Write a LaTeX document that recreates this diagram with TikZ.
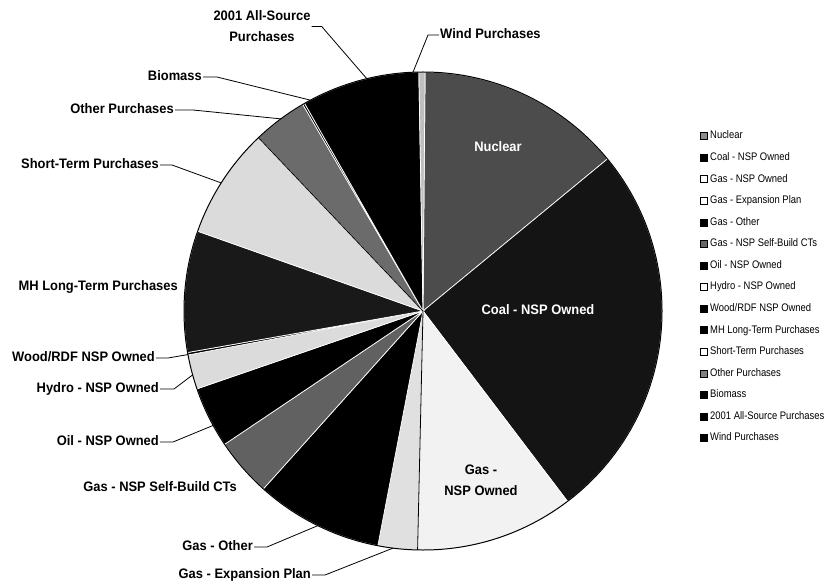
\documentclass[tikz,border=0pt]{standalone}
\usepackage{fontspec}
\newfontfamily\labfont{Liberation Sans}[FakeStretch=0.94]
\newfontfamily\legfont{Liberation Sans}[FakeStretch=0.86]
\usetikzlibrary{calc}
\newcommand\pieR{239}
\newcommand\pieslice[3]{\filldraw[fill=#3, sepline] (C) -- ($(C)+(#1:\pieR)$) arc[start angle=#1, end angle=#2, radius=\pieR] -- cycle;}
\begin{document}
\begin{tikzpicture}[x=1bp,y=1bp,
  lab/.style={font=\labfont\bfseries\fontsize{13.8}{21}\selectfont, inner sep=1bp, align=center},
  labone/.style={lab, text height=10bp, text depth=3bp},
  leg/.style={font=\legfont\fontsize{11}{12}\selectfont, anchor=west, inner sep=0pt, text height=8bp, text depth=2bp},
  legbox/.style={draw=black, line width=0.5bp, minimum size=7bp, inner sep=0pt},
  leader/.style={draw=black, line width=0.8bp},
  sepline/.style={draw=white, line width=0.7bp}]
\useasboundingbox (0,0) rectangle (828,-585);
\coordinate (C) at (423,-311);
% slices
\pieslice{39.5}{89.5}{black!70}
\pieslice{-52.8}{39.5}{black!92}
\pieslice{-91.3}{-52.8}{black!5}
\pieslice{-100.9}{-91.3}{black!12}
\pieslice{-131.9}{-100.9}{black}
\pieslice{-146.1}{-131.9}{black!62}
\pieslice{-161}{-146.1}{black}
\pieslice{-169.4}{-161}{black!14}
\pieslice{-170}{-169.4}{black}
\pieslice{160.5}{190}{black!90}
\pieslice{133.5}{160.5}{black!14}
\pieslice{120.2}{133.5}{black!58}
\pieslice{119.7}{120.2}{black}
\pieslice{91}{119.7}{black}
\pieslice{89.5}{91}{black!25}
\draw[line width=0.8bp] (C) -- ($(C)+(-91.3:\pieR)$);
\draw[line width=0.8bp] (C) -- ($(C)+(133.5:\pieR)$);
\draw[line width=1bp] (C) circle[radius=\pieR];
% inside labels
\node[labone, text=white] (nuc) at (498,-148) {Nuclear};
\node[labone, text=white] (coal) at (538,-311) {Coal - NSP Owned};
\node[lab] (gasown) at (481,-480) {Gas -\\NSP Owned};
% leader targets
\coordinate (t2001) at ($(C)+(103.6:\pieR)$);
\coordinate (twind) at ($(C)+(92.4:\pieR)$);
\coordinate (tbio) at ($(C)+(118.1:\pieR)$);
\coordinate (tother) at ($(C)+(126.5:\pieR)$);
\coordinate (tshort) at ($(C)+(147.6:\pieR)$);
\coordinate (twood) at ($(C)+(190.5:\pieR)$);
\coordinate (thydro) at ($(C)+(195.5:\pieR)$);
\coordinate (toil) at ($(C)+(208.6:\pieR)$);
\coordinate (tgo) at ($(C)+(243.9:\pieR)$);
\coordinate (texp) at ($(C)+(262.8:\pieR)$);
% outside labels
\node[lab] (l2001) at (262,-26.5) {2001 All-Source\\Purchases};
\node[labone, anchor=west] (lwind) at (439,-35) {Wind Purchases};
\node[labone, anchor=east] (lbio) at (203,-77) {Biomass};
\node[labone, anchor=east] (lother) at (175,-110) {Other Purchases};
\node[labone, anchor=east] (lshort) at (160,-165) {Short-Term Purchases};
\node[labone, anchor=east] (lmh) at (179,-287) {MH Long-Term Purchases};
\node[labone, anchor=east] (lwood) at (156,-358) {Wood/RDF NSP Owned};
\node[labone, anchor=east] (lhydro) at (160,-389) {Hydro - NSP Owned};
\node[labone, anchor=east] (loil) at (160,-442) {Oil - NSP Owned};
\node[labone, anchor=east] (lself) at (238,-488) {Gas - NSP Self-Build CTs};
\node[labone, anchor=east] (lgo) at (254,-547) {Gas - Other};
\node[labone, anchor=east] (lexp) at (312,-575) {Gas - Expansion Plan};
% leaders
\draw[leader] (l2001.east) -- ++(10,0) -- (t2001);
\draw[leader] (lwind.west) -- ++(-11,0) -- (twind);
\draw[leader] (lbio.east) -- ++(14,0) -- (tbio);
\draw[leader] (lother.east) -- ++(18,0) -- (tother);
\draw[leader] (lshort.east) -- ++(12,0) -- (tshort);
\draw[leader] (lwood.east) -- ++(12,0) -- (twood);
\draw[leader] (lhydro.east) -- ++(14,0) -- (thydro);
\draw[leader] (loil.east) -- ++(13,0) -- (toil);
\draw[leader] (lgo.east) -- ++(13,0) -- (tgo);
\draw[leader] (lexp.east) -- ++(13,0) -- (texp);
% legend
\foreach \txt/\col [count=\i from 0] in {
  Nuclear/black!45,
  Coal - NSP Owned/black,
  Gas - NSP Owned/white,
  Gas - Expansion Plan/white,
  Gas - Other/black,
  Gas - NSP Self-Build CTs/black!60,
  Oil - NSP Owned/black,
  Hydro - NSP Owned/white,
  {Wood/RDF NSP Owned}/black,
  MH Long-Term Purchases/black,
  Short-Term Purchases/white,
  Other Purchases/black!50,
  Biomass/black,
  2001 All-Source Purchases/black,
  Wind Purchases/black}{
  \node[legbox, fill=\col] (lb\i) at (703.5,{-136-21.57*\i}) {};
  \node[leg] (lt\i) at (710,{-136-21.57*\i}) {\txt};
}
\end{tikzpicture}
\end{document}
